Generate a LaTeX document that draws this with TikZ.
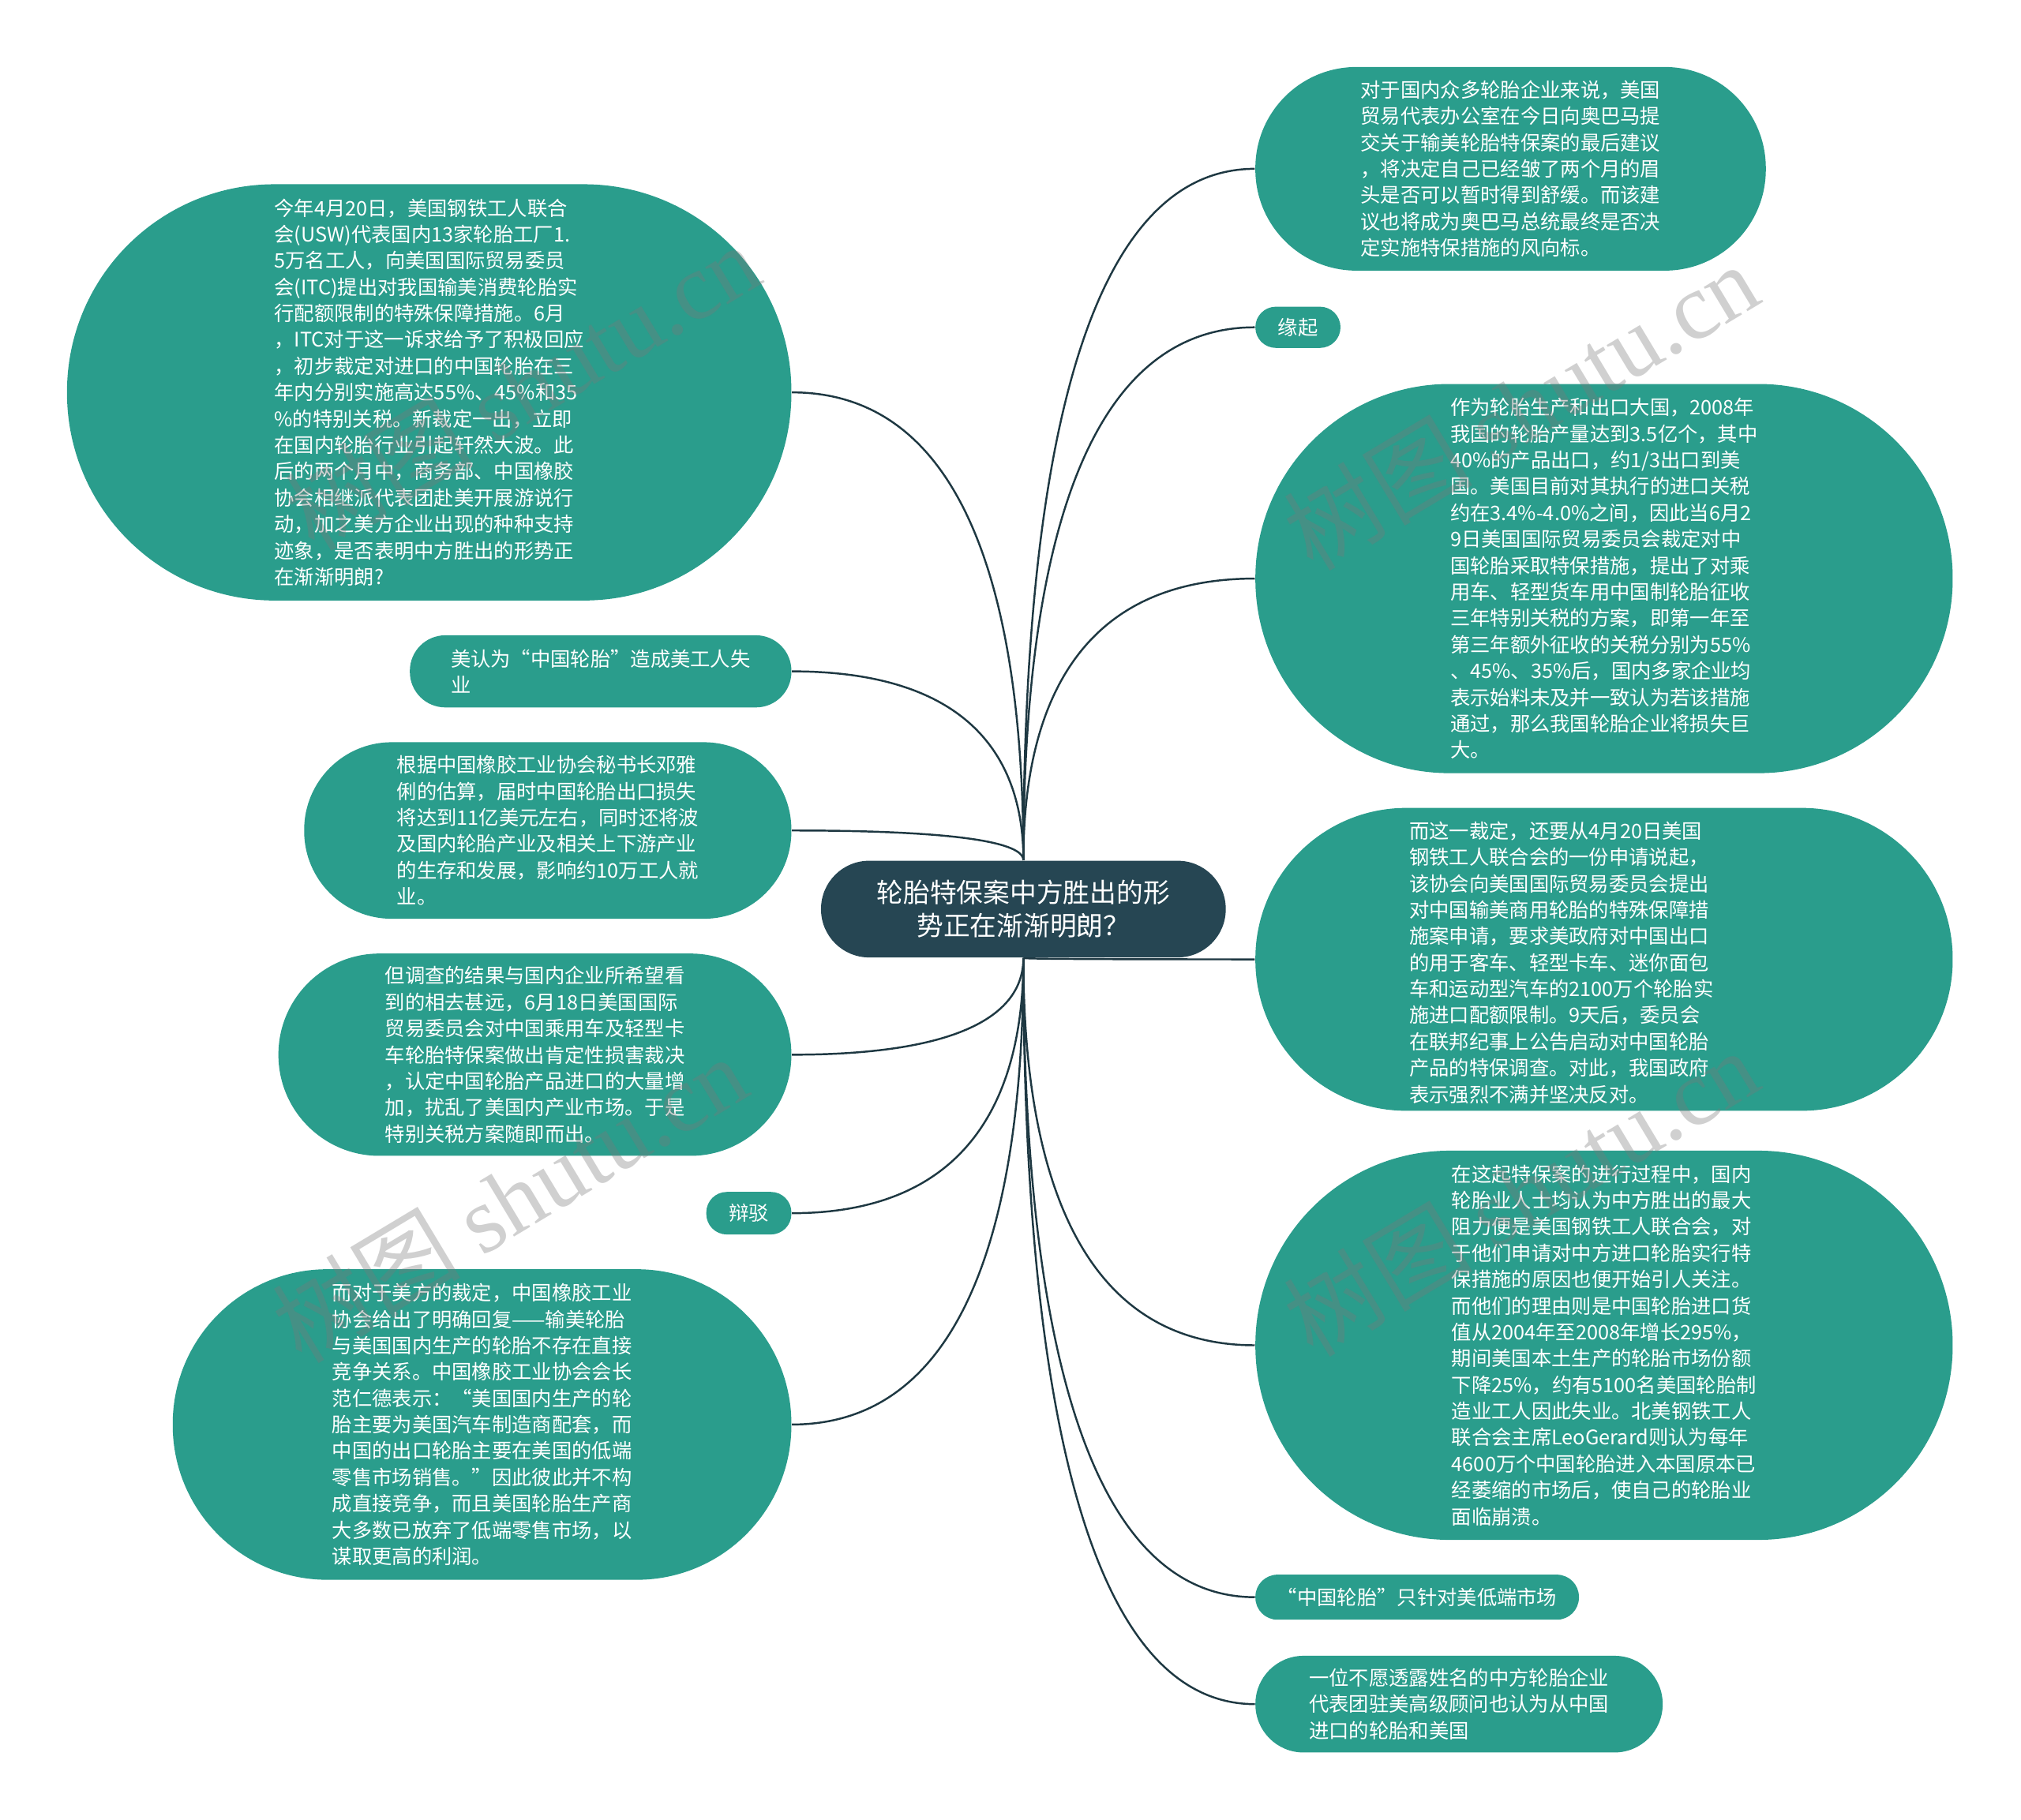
\documentclass[tikz,border=0pt]{standalone}
\usepackage{fontspec}
\setmainfont{Noto Sans CJK SC}
\newfontfamily\wmserif{Liberation Serif}
\usetikzlibrary{calc,backgrounds}
\definecolor{leafteal}{RGB}{42,157,140}
\definecolor{rootdark}{RGB}{38,70,83}
\definecolor{linedark}{RGB}{30,56,66}
\definecolor{wmgray}{RGB}{120,120,120}
\tikzset{
  leaf/.style n args={3}{draw=none, fill=leafteal, text=white, rounded corners=#3,
    minimum width=#1, minimum height=#2, inner sep=0pt, align=left,
    font=\fontsize{7.2}{9.5}\selectfont},
  leaftext/.style={text=white, inner sep=0pt, align=left, anchor=west,
    font=\fontsize{7.2}{9.5}\selectfont},
  rootnode/.style={draw=none, fill=rootdark, text=white, rounded corners=0.61cm,
    minimum width=5.127cm, minimum height=1.225cm, inner sep=0pt, align=center,
    font=\fontsize{9.6}{12}\selectfont},
  conn/.style={draw=linedark, line width=0.7pt},
  wm/.style={text=wmgray, opacity=0.35, rotate=31, inner sep=0pt, font=\fontsize{34}{34}\selectfont}
}
\newcommand\linkto[2]{%
  \draw[conn] let \p1=(#1), \p2=(#2) in
    (\p1) .. controls (\x1, {0.5*\y1+0.5*\y2}) and ({0.8*\x1+0.2*\x2}, \y2) .. (\p2);}
\begin{document}
\begin{tikzpicture}[x=0.016327cm, y=-0.016327cm]
\useasboundingbox (0,0) rectangle (1568,1412);

% root
\node[rootnode] (c) at (794,705.5) {轮胎特保案中方胜出的形\\势正在渐渐明朗？};

% right side
\node[leaf={6.466cm}{2.580cm}{1.28cm}] (r1) at (1172,131) {对于国内众多轮胎企业来说，美国\\贸易代表办公室在今日向奥巴马提\\交关于输美轮胎特保案的最后建议\\，将决定自己已经皱了两个月的眉\\头是否可以暂时得到舒缓。而该建\\议也将成为奥巴马总统最终是否决\\定实施特保措施的风向标。};
\node[leaf={1.078cm}{0.522cm}{0.26cm}] (r2) at (1007,254) {缘起};
\node[leaf={8.833cm}{4.931cm}{2.46cm}] (r3) at (1244.5,449) {作为轮胎生产和出口大国，2008年\\我国的轮胎产量达到3.5亿个，其中\\40\%的产品出口，约1/3出口到美\\国。美国目前对其执行的进口关税\\约在3.4\%-4.0\%之间，因此当6月2\\9日美国国际贸易委员会裁定对中\\国轮胎采取特保措施，提出了对乘\\用车、轻型货车用中国制轮胎征收\\三年特别关税的方案，即第一年至\\第三年额外征收的关税分别为55\%\\、45\%、35\%后，国内多家企业均\\表示始料未及并一致认为若该措施\\通过，那么我国轮胎企业将损失巨\\大。};
\node[leaf={8.833cm}{3.837cm}{1.91cm}] (r4) at (1244.5,744.5) {};
\node[leaftext] (r4t) at (1093,747) {而这一裁定，还要从4月20日美国\\钢铁工人联合会的一份申请说起，\\该协会向美国国际贸易委员会提出\\对中国输美商用轮胎的特殊保障措\\施案申请，要求美政府对中国出口\\的用于客车、轻型卡车、迷你面包\\车和运动型汽车的2100万个轮胎实\\施进口配额限制。9天后，委员会\\在联邦纪事上公告启动对中国轮胎\\产品的特保调查。对此，我国政府\\表示强烈不满并坚决反对。};
\node[leaf={8.833cm}{4.931cm}{2.46cm}] (r5) at (1244.5,1044) {在这起特保案的进行过程中，国内\\轮胎业人士均认为中方胜出的最大\\阻力便是美国钢铁工人联合会，对\\于他们申请对中方进口轮胎实行特\\保措施的原因也便开始引人关注。\\而他们的理由则是中国轮胎进口货\\值从2004年至2008年增长295\%，\\期间美国本土生产的轮胎市场份额\\下降25\%，约有5100名美国轮胎制\\造业工人因此失业。北美钢铁工人\\联合会主席LeoGerard则认为每年\\4600万个中国轮胎进入本国原本已\\经萎缩的市场后，使自己的轮胎业\\面临崩溃。};
\node[leaf={4.098cm}{0.571cm}{0.28cm}] (r6) at (1099.5,1239.5) {“中国轮胎”只针对美低端市场};
\node[leaf={5.159cm}{1.225cm}{0.61cm}] (r7) at (1132,1322.5) {一位不愿透露姓名的中方轮胎企业\\代表团驻美高级顾问也认为从中国\\进口的轮胎和美国};

% left side
\node[leaf={9.176cm}{5.274cm}{2.63cm}] (l1) at (333,304.5) {今年4月20日，美国钢铁工人联合\\会(USW)代表国内13家轮胎工厂1.\\5万名工人，向美国国际贸易委员\\会(ITC)提出对我国输美消费轮胎实\\行配额限制的特殊保障措施。6月\\，ITC对于这一诉求给予了积极回应\\，初步裁定对进口的中国轮胎在三\\年内分别实施高达55\%、45\%和35\\\%的特别关税。新裁定一出，立即\\在国内轮胎行业引起轩然大波。此\\后的两个月中，商务部、中国橡胶\\协会相继派代表团赴美开展游说行\\动，加之美方企业出现的种种支持\\迹象，是否表明中方胜出的形势正\\在渐渐明朗?};
\node[leaf={4.833cm}{0.914cm}{0.45cm}] (l2) at (466,521) {美认为“中国轮胎”造成美工人失\\业};
\node[leaf={6.172cm}{2.237cm}{1.11cm}] (l3) at (425,644.5) {根据中国橡胶工业协会秘书长邓雅\\俐的估算，届时中国轮胎出口损失\\将达到11亿美元左右，同时还将波\\及国内轮胎产业及相关上下游产业\\的生存和发展，影响约10万工人就\\业。};
\node[leaf={6.498cm}{2.563cm}{1.28cm}] (l4) at (415,818.5) {但调查的结果与国内企业所希望看\\到的相去甚远，6月18日美国国际\\贸易委员会对中国乘用车及轻型卡\\车轮胎特保案做出肯定性损害裁决\\，认定中国轮胎产品进口的大量增\\加，扰乱了美国内产业市场。于是\\特别关税方案随即而出。};
\node[leaf={1.078cm}{0.539cm}{0.26cm}] (l5) at (581,941.5) {辩驳};
\node[leaf={7.837cm}{3.935cm}{1.96cm}] (l6) at (374,1105.5) {而对于美方的裁定，中国橡胶工业\\协会给出了明确回复——输美轮胎\\与美国国内生产的轮胎不存在直接\\竞争关系。中国橡胶工业协会会长\\范仁德表示：“美国国内生产的轮\\胎主要为美国汽车制造商配套，而\\中国的出口轮胎主要在美国的低端\\零售市场销售。”因此彼此并不构\\成直接竞争，而且美国轮胎生产商\\大多数已放弃了低端零售市场，以\\谋取更高的利润。};

% connectors
\begin{pgfonlayer}{background}
\linkto{c.north}{r1.west}
\linkto{c.north}{r2.west}
\linkto{c.north}{r3.west}
\linkto{c.south}{r4.west}
\linkto{c.south}{r5.west}
\linkto{c.south}{r6.west}
\linkto{c.south}{r7.west}
\linkto{c.north}{l1.east}
\linkto{c.north}{l2.east}
\linkto{c.north}{l3.east}
\linkto{c.south}{l4.east}
\linkto{c.south}{l5.east}
\linkto{c.south}{l6.east}
\end{pgfonlayer}

% watermarks
\node[wm] (wm1) at (405,300) {树图 {\wmserif shutu.cn}};
\node[wm] (wm2) at (1180,315) {树图 {\wmserif shutu.cn}};
\node[wm] (wm3) at (395,930) {树图 {\wmserif shutu.cn}};
\node[wm] (wm4) at (1180,925) {树图 {\wmserif shutu.cn}};
\end{tikzpicture}
\end{document}
